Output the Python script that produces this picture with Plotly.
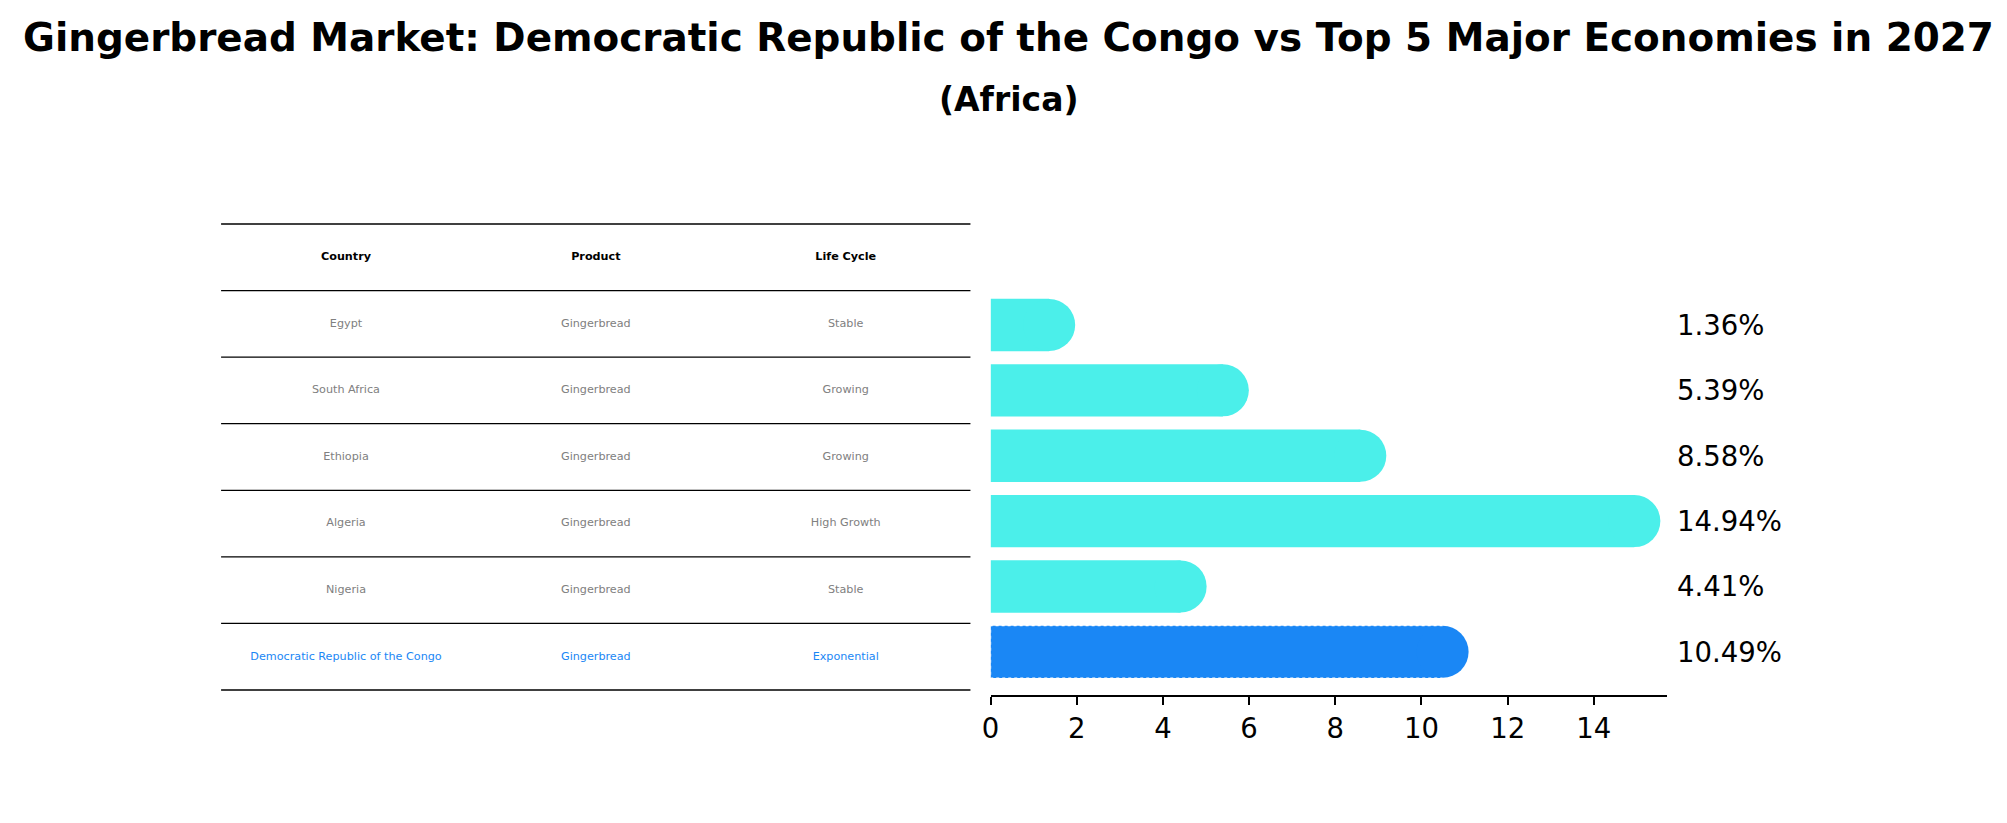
import plotly.graph_objects as go

countries = ["Egypt", "South Africa", "Ethiopia", "Algeria", "Nigeria", "Democratic Republic of the Congo"]
products = ["Gingerbread"] * 6
life_cycle = ["Stable", "Growing", "Growing", "High Growth", "Stable", "Exponential"]
growth = [1.36, 5.39, 8.58, 14.94, 4.41, 10.49]
headers = ["Country", "Product", "Life Cycle"]
highlight = "Democratic Republic of the Congo"

W, H = 2007, 823
C_BAR = "#4BEFEA"
C_HI = "#1A87F5"
GRAY = "#808080"
FONT = "DejaVu Sans"

ypos = list(range(len(countries)))
bar_colors = [C_HI if c == highlight else C_BAR for c in countries]

fig = go.Figure()

# bars
fig.add_trace(go.Bar(x=growth, y=ypos, orientation="h", width=0.8,
                     marker=dict(color=bar_colors, line=dict(width=0)),
                     xaxis="x", yaxis="y", hoverinfo="skip", showlegend=False))

# dotted edge for highlighted bar (top, left, bottom)
for i, c in enumerate(countries):
    if c == highlight:
        v = growth[i]
        fig.add_shape(type="path", xref="x", yref="y",
                      path="M %f,%f L 0,%f L 0,%f L %f,%f" % (v, i - 0.4, i - 0.4, i + 0.4, v, i + 0.4),
                      line=dict(color="white", width=1.2, dash="dot"), layer="above")

# rounded caps
fig.add_trace(go.Scatter(x=growth, y=ypos, mode="markers",
                         marker=dict(symbol="circle", size=52, color=bar_colors, line=dict(width=0)),
                         xaxis="x", yaxis="y", hoverinfo="skip", showlegend=False, cliponaxis=False))

# table text
cols = [countries, products, life_cycle]
for j, col in enumerate(cols):
    fig.add_trace(go.Scatter(x=[j + 0.5] * len(col), y=ypos, mode="text", text=col,
                             textfont=dict(family=FONT, size=11.2,
                                           color=[C_HI if countries[k] == highlight else GRAY for k in range(len(col))]),
                             xaxis="x2", yaxis="y2", hoverinfo="skip", showlegend=False, cliponaxis=False))
fig.add_trace(go.Scatter(x=[j + 0.5 for j in range(3)], y=[-1] * 3, mode="text",
                         text=["<b>%s</b>" % h for h in headers],
                         textfont=dict(family=FONT, size=11.2, color="black"),
                         xaxis="x2", yaxis="y2", hoverinfo="skip", showlegend=False, cliponaxis=False))

# table horizontal rules
for k in range(len(countries) + 2):
    yb = -1.5 + k
    fig.add_shape(type="line", xref="x2", yref="y2", x0=0, x1=3, y0=yb, y1=yb,
                  line=dict(color="black", width=1.3))

# value labels
xmax = max(growth) * 1.05
for i, v in enumerate(growth):
    fig.add_annotation(x=1.012, y=i, xref="x domain", yref="y", text="%.2f%%" % v,
                       showarrow=False, xanchor="left", yanchor="middle",
                       font=dict(family=FONT, size=27.5, color="black"))

# titles
fig.add_annotation(x=0.5, y=1 - 38 / H, xref="paper", yref="paper",
                   text="<b>Gingerbread Market: Democratic Republic of the Congo vs Top 5 Major Economies in 2027</b>",
                   showarrow=False, xanchor="center", yanchor="middle",
                   font=dict(family=FONT, size=38.9, color="black"))
fig.add_annotation(x=0.5, y=1 - 99 / H, xref="paper", yref="paper", text="<b>(Africa)</b>",
                   showarrow=False, xanchor="center", yanchor="middle",
                   font=dict(family=FONT, size=33, color="black"))

fig.update_layout(
    width=W, height=H,
    margin=dict(l=0, r=0, t=0, b=0),
    paper_bgcolor="white", plot_bgcolor="white",
    bargap=0.2,
    xaxis=dict(domain=[986 / W, 1665 / W], range=[0, xmax], anchor="y",
               showgrid=False, zeroline=False, showline=True, linecolor="black", linewidth=1.6,
               ticks="outside", ticklen=8, tickwidth=1.6, tickcolor="black",
               tickvals=[0, 2, 4, 6, 8, 10, 12, 14],
               tickfont=dict(family=FONT, size=27.5, color="black"), fixedrange=True),
    yaxis=dict(domain=[1 - 695 / H, 1 - 223 / H], range=[5.66, -1.56], visible=False, fixedrange=True),
    xaxis2=dict(domain=[213 / W, 966 / W], range=[0, 3], anchor="y2", visible=False, fixedrange=True),
    yaxis2=dict(domain=[1 - 692 / H, 1 - 222 / H], range=[5.53, -1.53], anchor="x2",
                visible=False, fixedrange=True),
)

fig.write_html("out.html", config={"displayModeBar": False},
               post_script="document.body.style.margin='0px';")
